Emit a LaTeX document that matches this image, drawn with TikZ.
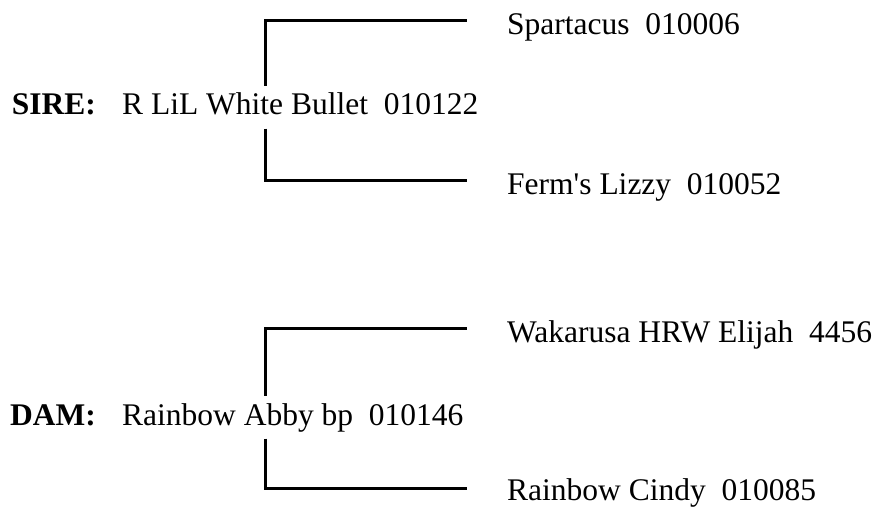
\documentclass[tikz,border=0pt]{standalone}
\usepackage{fontspec}
\setmainfont{Liberation Serif}[Ligatures=TeXOff]

\tikzset{
  horse/.style={anchor=base west,inner sep=4pt,text height=25pt,text depth=9.5pt,
    font=\fontsize{31.5}{38}\selectfont},
  role/.style={anchor=base east,inner sep=0pt,font=\fontsize{31.5}{38}\selectfont\bfseries},
  bracket/.style={line width=3pt,black}
}

\begin{document}
\begin{tikzpicture}[x=1pt,y=-1pt]
        \useasboundingbox (0,0) rectangle (884,508) ;
        %\draw[very thin,gray,step=20] (0,0) grid (884,508) ;
        % sire side
        \node[role] (sirelbl) at (96,115) {SIRE:} ;
        \node[horse] (sire) at (118,115) {R LiL White Bullet~~010122} ;
        \node[horse] (sireS) at (503,35) {Spartacus~~010006} ;
        \node[horse] (sireD) at (503,195) {Ferm's Lizzy~~010052} ;
        \coordinate (sireSend) at (467,21) ;
        \coordinate (sireDend) at (467,181) ;
        \draw[bracket] (sire.north -| 265,0) |- (sireSend) ;
        \draw[bracket] (sire.south -| 265,0) |- (sireDend) ;
        % dam side
        \node[role] (damlbl) at (96,425) {DAM:} ;
        \node[horse] (dam) at (118,425) {Rainbow Abby bp~~010146} ;
        \node[horse] (damS) at (503,342) {Wakarusa HRW Elijah~~4456} ;
        \node[horse] (damD) at (503,500) {Rainbow Cindy~~010085} ;
        \coordinate (damSend) at (467,328) ;
        \coordinate (damDend) at (467,488) ;
        \draw[bracket] (dam.north -| 265,0) |- (damSend) ;
        \draw[bracket] (dam.south -| 265,0) |- (damDend) ;
      \end{tikzpicture}
\end{document}
